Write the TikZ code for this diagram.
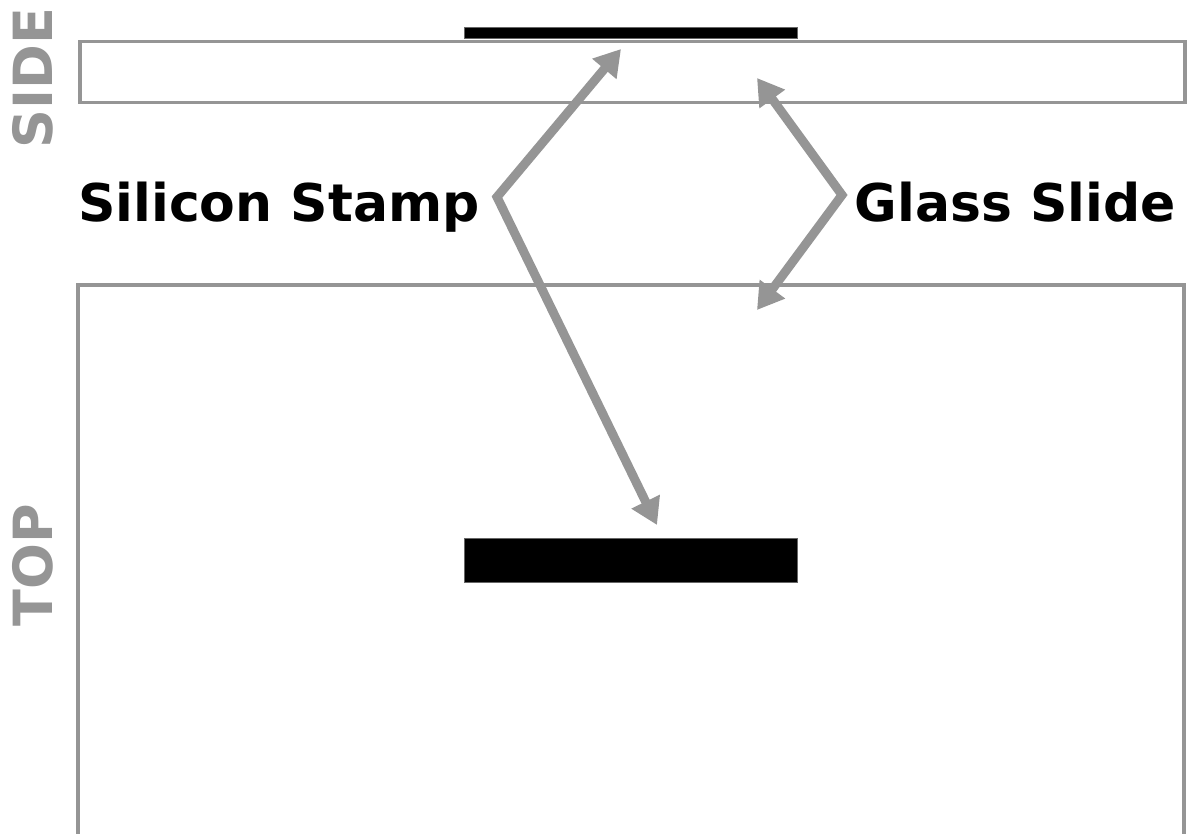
\documentclass[tikz,border=0pt]{standalone}
\usepackage{fontspec}
\setmainfont{DejaVu Sans}
\usetikzlibrary{arrows.meta}
\definecolor{frame}{HTML}{959595}
\tikzset{
  slide/.style={draw=frame, line width=3.5pt},
  stamp/.style={fill=black, draw=black!60, line width=0.5pt},
  label/.style={font=\bfseries\fontsize{52}{52}\selectfont, inner sep=0pt, text=black},
  view/.style={font=\bfseries\fontsize{54}{54}\selectfont, inner sep=0pt, text=frame, rotate=90},
  pointer/.style={draw=frame, line width=9pt, line join=miter, miter limit=4,
    {Triangle[length=26pt,width=30pt]}-{Triangle[length=26pt,width=30pt]}}
}
\begin{document}
\begin{tikzpicture}[x=1pt,y=-1pt]
\useasboundingbox (0,0) rectangle (1188,834);
% side view: glass slide with the stamp resting on top
\node[slide, inner sep=0pt, minimum width=1105pt, minimum height=61pt, anchor=north west] (sideslide) at (78,40) {};
\node[stamp, inner sep=0pt, minimum width=333pt, minimum height=11pt, anchor=south west] (sidestamp) at (464,39) {};
% top view: glass slide running off the bottom edge, stamp in the middle
\draw[slide] (78,840) -- (78,285) -- (1184,285) -- (1184,840);
\coordinate (topslide) at (757,310);
\node[stamp, inner sep=0pt, minimum width=333pt, minimum height=44pt, anchor=north west] (topstamp) at (464,538) {};
% view names
\node[view, anchor=south] (sidename) at (53,78) {SIDE};
\node[view, anchor=south] (topname) at (53,565) {TOP};
% part labels
\node[label, anchor=base west] (siliconlbl) at (78,222) {Silicon Stamp};
\node[label, anchor=base east] (glasslbl) at (1176,222) {Glass Slide};
% pointers, each a bent double arrow from its label to both views
\coordinate (sv) at (497,197);
\coordinate (gv) at (842,195);
\coordinate (sidetip) at (621,49);
\coordinate (toptip) at (657,525);
\coordinate (gsidetip) at (757,78);
\draw[pointer] (sidetip) -- (sv) -- (toptip);
\draw[pointer] (gsidetip) -- (gv) -- (topslide);
\end{tikzpicture}
\end{document}
